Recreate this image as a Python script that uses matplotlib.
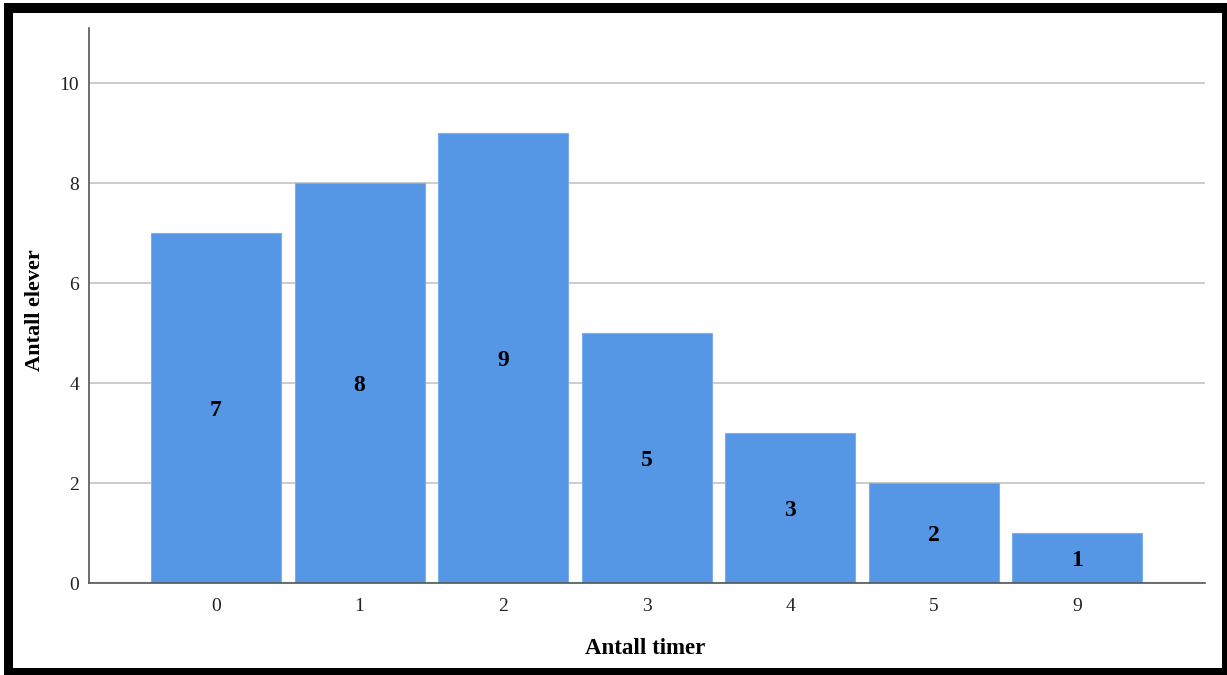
import matplotlib
matplotlib.use("Agg")
import matplotlib.pyplot as plt
from matplotlib.patches import Rectangle

categories = ["0", "1", "2", "3", "4", "5", "9"]
counts = [7, 8, 9, 5, 3, 2, 1]
y_ticks = [0, 2, 4, 6, 8, 10]

plt.rcParams['font.family'] = ['Liberation Serif', 'DejaVu Serif']

W, H = 1227, 675
fig = plt.figure(figsize=(W / 100, H / 100), dpi=100)
fig.patch.set_facecolor("white")

# frame around the image
fig.patches.append(Rectangle((4 / W, 0), (W - 4) / W, (H - 3) / H,
                             transform=fig.transFigure, facecolor="black",
                             edgecolor="none", zorder=-2))
fig.patches.append(Rectangle((13 / W, 7 / H), (1222 - 13) / W, (668 - 13) / H,
                             transform=fig.transFigure, facecolor="white",
                             edgecolor="none", zorder=-1))

ax = fig.add_axes([89 / W, 1 - 583 / H, (1205 - 89) / W, (583 - 28) / H])
ax.set_facecolor("none")
ax.set_zorder(2)

x = list(range(len(categories)))
ax.bar(x, counts, width=0.905, color="#5596e5", edgecolor="#7aaef0",
       linewidth=0.8, zorder=3)
for xi, v in zip(x, counts):
    ax.text(xi, v / 2, str(v), ha="center", va="center_baseline", fontsize=17,
            fontweight="bold", color="black", zorder=4)

ax.set_xlim(-0.885, len(categories) - 1 + 0.89)
ax.set_ylim(0, 11.1)
ax.set_xticks(x)
ax.set_xticklabels(categories)
ax.set_yticks(y_ticks)
ax.tick_params(axis="both", length=0, labelsize=14, colors="#222222")
ax.tick_params(axis="x", pad=11)
ax.tick_params(axis="y", pad=7)
ax.yaxis.grid(True, color="#c4c4c4", linewidth=1.2, zorder=1)
ax.set_axisbelow(True)

for s in ["top", "right"]:
    ax.spines[s].set_visible(False)
for s in ["left", "bottom"]:
    ax.spines[s].set_color("#555555")
    ax.spines[s].set_linewidth(1.2)
    ax.spines[s].set_zorder(5)

fig.text(35 / W, 1 - 310 / H, "Antall elever", rotation=90, ha="center",
         va="center", fontsize=16, fontweight="bold", zorder=3)
fig.text(645 / W, 1 - 648 / H, "Antall timer", ha="center", va="center",
         fontsize=16.5, fontweight="bold", zorder=3)

fig.savefig("out.png", dpi=100)
